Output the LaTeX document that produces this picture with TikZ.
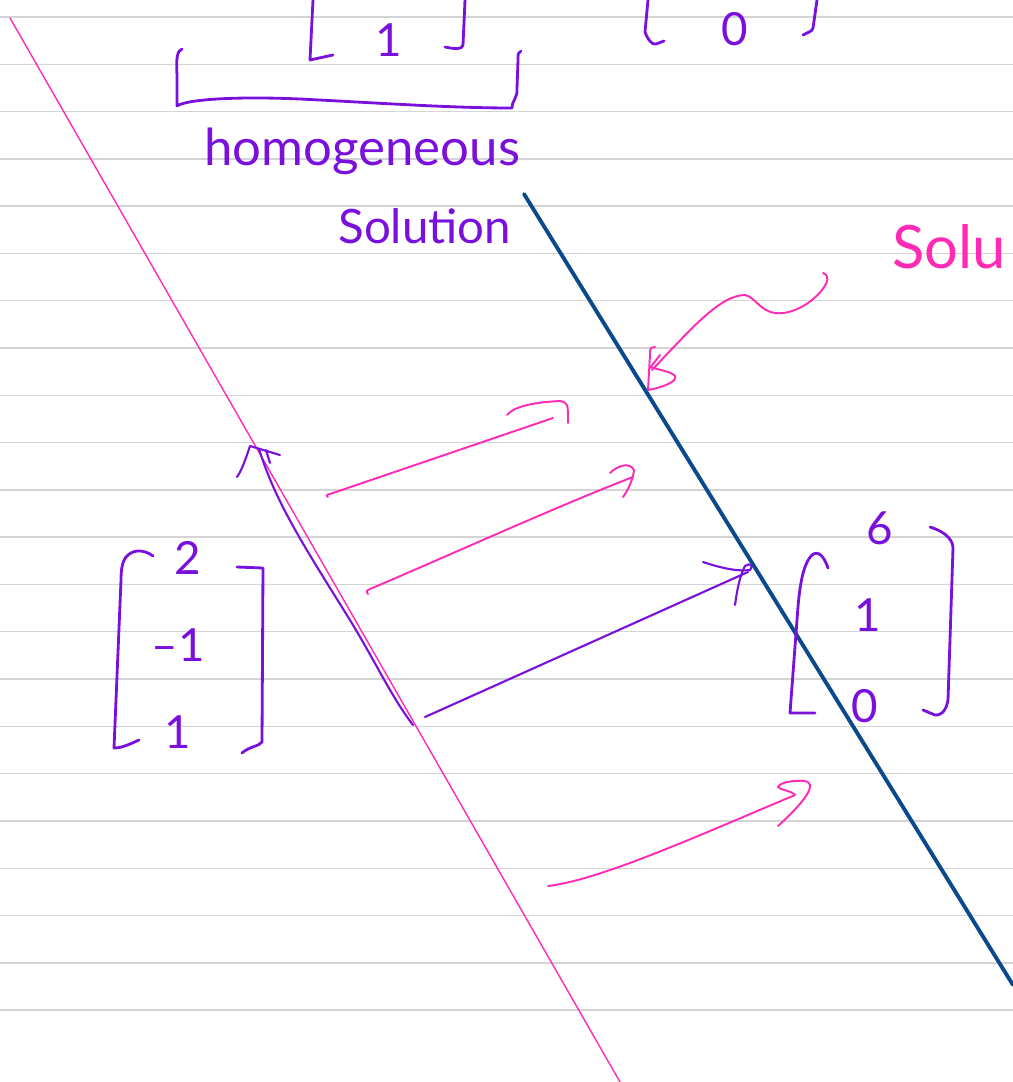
\documentclass[tikz,border=0pt]{standalone}
\usepackage{fontspec}
\setmainfont{Lato}
\usetikzlibrary{calc}
\definecolor{ink}{HTML}{7A10DC}
\definecolor{hilite}{HTML}{FF2BB5}
\definecolor{navy}{HTML}{0A4A8C}
\definecolor{rule}{HTML}{D4D4D4}

\begin{document}
\begin{tikzpicture}[x=0.02cm,y=-0.02cm,line cap=round,line join=round,
    pen/.style={ink,line width=1.6pt},
    thinpen/.style={ink,line width=1.2pt},
    marker/.style={hilite,line width=1.1pt},
    hand/.style={ink,font=\fontsize{26}{28}\selectfont,inner sep=0pt}]
  \useasboundingbox (0,0) rectangle (1013,1082);
  \clip (0,0) rectangle (1013,1082);
  % ruled paper
  \foreach \k in {0,...,21}
    \draw[rule,line width=0.8pt] (0,{17+47.29*\k}) -- (1013,{17+47.29*\k});

  % the two parallel lines
  \draw[hilite,line width=0.8pt] (10,18) -- (620,1082);
  \draw[navy,line width=2.2pt] (524,194) -- (1013,985);

  % vectors cut off at the top
  \draw[pen] (313,0) -- (310,60) -- (333,55);
  \node[hand] (t1) at (389,40) {1};
  \draw[pen] (465,0) -- (463,45) .. controls (462,50) and (455,49) .. (445,47);
  \draw[pen] (648,0) -- (645,32) .. controls (648,40) and (652,45) .. (656,44) -- (664,41);
  \node[hand] (t0) at (735,29) {0};
  \draw[pen] (817,0) -- (813,28) .. controls (812,32) and (808,32) .. (803,35);

  % brace
  \draw[pen] (182,49) .. controls (177,50) and (176,60) .. (177,75) -- (177,106)
    .. controls (185,100) and (230,96) .. (300,99)
    .. controls (380,103) and (450,108) .. (512,108)
    .. controls (512,100) and (518,98) .. (517,88) -- (518,60)
    .. controls (518,53) .. (521,51);
  \node[hand,font=\fontsize{29}{31}\selectfont,anchor=base west] (hom) at (204,165) {homogeneous};
  \node[hand,font=\fontsize{27}{29}\selectfont,anchor=base west] (sol) at (338,243) {Solution};
  \node[hilite,font=\fontsize{34}{36}\selectfont,inner sep=0pt,anchor=base west] (solr) at (892,268) {Solu};

  % left vector
  \draw[pen] (153,556) .. controls (145,550) and (135,549) .. (128,555)
    .. controls (122,560) and (121,570) .. (121,580) -- (114,748)
    .. controls (122,748) and (130,744) .. (139,740);
  \draw[pen] (237,567) -- (263,568) -- (262,742) .. controls (258,747) and (250,746) .. (242,753);
  \node[hand] (a1) at (188,558) {2};
  \node[hand] (a2) at (178,645) {–1};
  \node[hand] (a3) at (178,732) {1};

  % right vector
  \draw[pen] (828,568) .. controls (824,556) and (818,550) .. (812,555)
    .. controls (802,565) and (799,590) .. (797,620) -- (790,713) -- (815,713);
  \draw[pen] (930,527) .. controls (940,530) and (953,537) .. (953,548) -- (948,700)
    .. controls (946,712) and (940,716) .. (935,715) -- (923,710);
  \node[hand] (b1) at (880,528) {6};
  \node[hand] (b2) at (868,615) {1};
  \node[hand] (b3) at (865,706) {0};

  % purple arrows
  \draw[thinpen] (413,725) .. controls (390,695) and (375,660) .. (345,612)
    .. controls (300,540) and (275,500) .. (259,449);
  \draw[thinpen] (237,477) .. controls (242,470) and (246,458) .. (250,446) -- (260,449) -- (280,455);
  \draw[thinpen] (266,450) -- (270,463);
  \draw[thinpen] (425,717) -- (748,572);
  \draw[thinpen] (703,562) .. controls (715,566) and (735,572) .. (750,570)
    .. controls (754,566) and (750,562) .. (745,566)
    .. controls (740,575) and (737,590) .. (735,605);

  % pink arrows
  \draw[marker] (328,497) .. controls (326,495) .. (330,494) -- (553,418);
  \draw[marker] (507,415) .. controls (515,405) and (540,402) .. (560,401)
    .. controls (568,403) .. (568,423);
  \draw[marker] (368,594) .. controls (366,591) .. (370,589)
    .. controls (450,555) and (560,505) .. (633,477);
  \draw[marker] (610,473) .. controls (618,465) and (630,462) .. (634,470)
    .. controls (633,480) and (628,490) .. (623,497);
  \draw[marker] (548,886) .. controls (600,880) and (700,835) .. (795,795);
  \draw[marker] (795,795) .. controls (790,790) and (780,790) .. (778,787)
    .. controls (780,782) and (795,780) .. (805,781)
    .. controls (815,783) and (812,795) .. (778,826);
  % squiggle pointing at the solution line
  \draw[marker] (823,273) .. controls (830,276) and (828,282) .. (822,290)
    .. controls (810,305) and (790,315) .. (775,313)
    .. controls (760,311) and (755,297) .. (745,295)
    .. controls (720,295) and (690,330) .. (652,370);
  \draw[marker] (660,355) -- (650,368);
  \draw[marker] (655,347) .. controls (650,348) .. (650,355) -- (648,390)
    .. controls (660,388) and (678,382) .. (675,376)
    .. controls (672,372) and (660,370) .. (650,367);
\end{tikzpicture}
\end{document}
